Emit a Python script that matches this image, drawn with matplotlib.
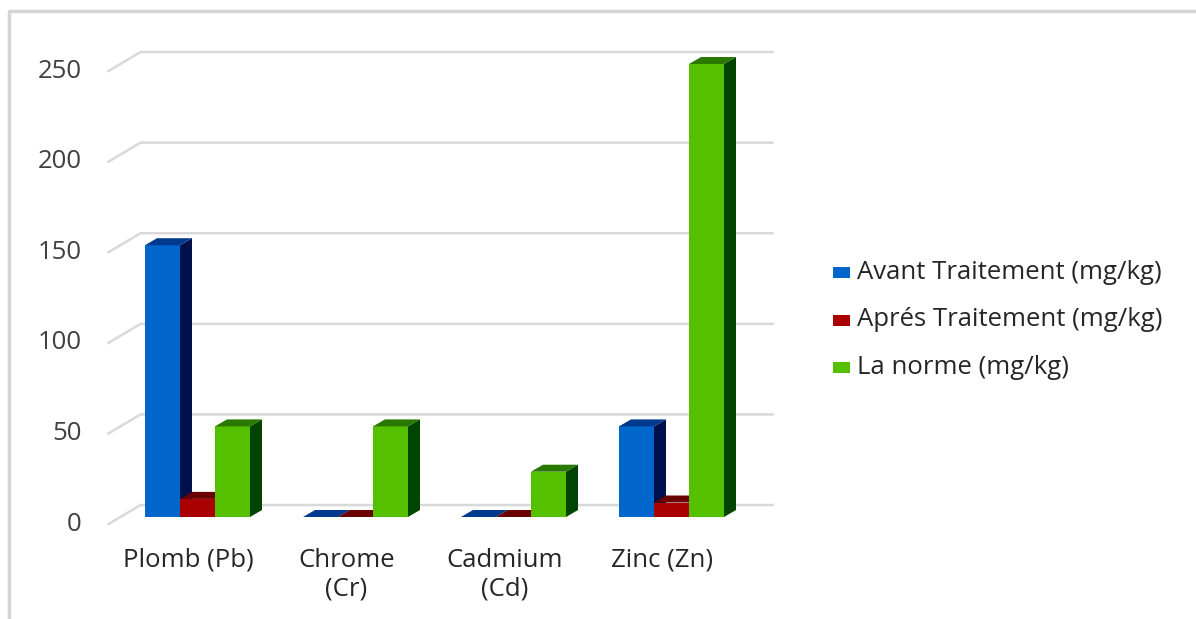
import matplotlib
matplotlib.use("Agg")
import matplotlib.pyplot as plt
from matplotlib.patches import Polygon, Rectangle
from matplotlib.lines import Line2D

# données
categories = ["Plomb (Pb)", "Chrome\n(Cr)", "Cadmium\n(Cd)", "Zinc (Zn)"]
series_names = ["Avant Traitement (mg/kg)", "Aprés Traitement (mg/kg)", "La norme (mg/kg)"]
avant = [150, 0, 0, 50]
apres = [10, 0, 0, 8]
norme = [50, 50, 25, 250]
yticks = [0, 50, 100, 150, 200, 250]

# couleurs (face avant, côté, dessus)
front_cols = ["#0066cc", "#aa0000", "#55c000"]
side_cols = ["#00104d", "#4d0000", "#004400"]
top_cols = ["#003a8f", "#6a0000", "#2a7800"]

W, H = 1196, 619
FS = 18.5
fig = plt.figure(figsize=(W / 100, H / 100), dpi=100)
ax = fig.add_axes([118.5 / W, 1 - 517 / H, 632 / W, 453 / H])
ax.set_xlim(-0.5, 3.5)
ax.set_ylim(0, 250)
ax.axis("off")

# profondeur 3D en unités de données
DX = 12 / 158
DY = 7 / 1.812
bw = 35 / 158

# mur du fond : lignes de grille
for v in yticks:
    xf, yf = -0.5 - 10 / 158, v - 3.9
    xb, yb = -0.5 + 22 / 158, v + 6.6
    xr = 3.5 + 22 / 158
    ax.add_line(Line2D([xf, xb, xr], [yf, yb, yb], color="#d9d9d9", lw=1.8,
                       clip_on=False, zorder=1))
    ax.text(xf - 27 / 158, yf, str(v), ha="right", va="center", fontsize=FS,
            family="Open Sans", color="#404040", clip_on=False)

# barres
data = [avant, apres, norme]
for i in range(len(categories)):
    for s, vals in enumerate(data):
        x0 = i + (s - 1.5) * bw
        x1 = x0 + bw
        h = vals[i]
        z = 3 + s
        # face avant
        ax.add_patch(Rectangle((x0, 0), bw, h, facecolor=front_cols[s],
                               edgecolor="none", zorder=z, clip_on=False))
        # côté
        ax.add_patch(Polygon([(x1, 0), (x1 + DX, DY), (x1 + DX, h + DY), (x1, h)],
                             closed=True, facecolor=side_cols[s], edgecolor="none",
                             zorder=z, clip_on=False))
        # dessus
        ax.add_patch(Polygon([(x0, h), (x0 + DX, h + DY), (x1 + DX, h + DY), (x1, h)],
                             closed=True, facecolor=top_cols[s], edgecolor="none",
                             zorder=z, clip_on=False))

# étiquettes des catégories
for i, c in enumerate(categories):
    ax.text(i - 9 / 158, -17, c, ha="center", va="top", fontsize=FS,
            family="Open Sans", color="#262626", linespacing=1.2, clip_on=False)

# légende
leg_y = [272, 320, 367]
for s, name in enumerate(series_names):
    fig.add_artist(Rectangle((833 / W, 1 - (leg_y[s] + 5.5) / H), 17 / W, 11 / H,
                             facecolor=front_cols[s], edgecolor="none",
                             transform=fig.transFigure))
    fig.text(857 / W, 1 - leg_y[s] / H, name, ha="left", va="center", fontsize=FS,
             family="Open Sans", color="#262626")

# cadre
fig.add_artist(Line2D([9 / W, 9 / W, 1], [0, 1 - 11 / H, 1 - 11 / H], color="#d4d4d4",
                      lw=2.5, transform=fig.transFigure))

fig.savefig("out.png", dpi=100, facecolor="white")
